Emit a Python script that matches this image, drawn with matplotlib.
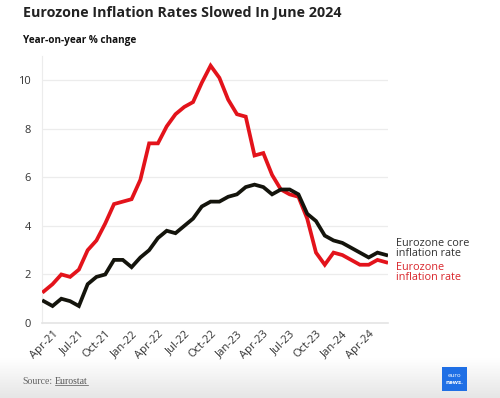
import numpy as np
import matplotlib
matplotlib.use("Agg")
import matplotlib.pyplot as plt
from matplotlib.colors import LinearSegmentedColormap

plt.rcParams['font.family'] = ['Open Sans', 'DejaVu Sans']

# monthly, Mar-21 .. Jun-24
months = ["Mar-21", "Apr-21", "May-21", "Jun-21", "Jul-21", "Aug-21", "Sep-21", "Oct-21", "Nov-21", "Dec-21",
          "Jan-22", "Feb-22", "Mar-22", "Apr-22", "May-22", "Jun-22", "Jul-22", "Aug-22", "Sep-22", "Oct-22",
          "Nov-22", "Dec-22", "Jan-23", "Feb-23", "Mar-23", "Apr-23", "May-23", "Jun-23", "Jul-23", "Aug-23",
          "Sep-23", "Oct-23", "Nov-23", "Dec-23", "Jan-24", "Feb-24", "Mar-24", "Apr-24", "May-24", "Jun-24"]
headline = [1.3, 1.6, 2.0, 1.9, 2.2, 3.0, 3.4, 4.1, 4.9, 5.0,
            5.1, 5.9, 7.4, 7.4, 8.1, 8.6, 8.9, 9.1, 9.9, 10.6,
            10.1, 9.2, 8.6, 8.5, 6.9, 7.0, 6.1, 5.5, 5.3, 5.2,
            4.3, 2.9, 2.4, 2.9, 2.8, 2.6, 2.4, 2.4, 2.6, 2.5]
core = [0.9, 0.7, 1.0, 0.9, 0.7, 1.6, 1.9, 2.0, 2.6, 2.6,
        2.3, 2.7, 3.0, 3.5, 3.8, 3.7, 4.0, 4.3, 4.8, 5.0,
        5.0, 5.2, 5.3, 5.6, 5.7, 5.6, 5.3, 5.5, 5.5, 5.3,
        4.5, 4.2, 3.6, 3.4, 3.3, 3.1, 2.9, 2.7, 2.9, 2.8]
tick_labels = ["Apr-21", "Jul-21", "Oct-21", "Jan-22", "Apr-22", "Jul-22", "Oct-22",
               "Jan-23", "Apr-23", "Jul-23", "Oct-23", "Jan-24", "Apr-24"]
y_ticks = [0, 2, 4, 6, 8, 10]

RED = "#e3131b"
BLACK = "#14140c"
GREY_TXT = "#333333"

fig = plt.figure(figsize=(5, 3.98), dpi=100)
fig.patch.set_facecolor("white")

# light grey gradient band at the bottom
band = fig.add_axes([0, 0, 1, 0.1])
grad = np.linspace(0, 1, 50).reshape(-1, 1)
cmap = LinearSegmentedColormap.from_list("band", ["#ffffff", "#e6e6e6"])
band.imshow(grad, aspect="auto", cmap=cmap, extent=[0, 1, 0, 1])
band.set_axis_off()

ax = fig.add_axes([0.084, 0.1884, 0.692, 0.671])
x = np.arange(len(months))
ax.plot(x, headline, color=RED, lw=2.7, solid_joinstyle="miter", zorder=3)
ax.plot(x, core, color=BLACK, lw=2.7, solid_joinstyle="miter", zorder=4)

ax.set_xlim(-0.2, 39.2)
ax.set_ylim(0, 11)
ax.set_yticks(y_ticks)
ax.set_yticklabels([str(v) for v in y_ticks])
ax.set_xticks([months.index(m) for m in tick_labels])
ax.set_xticklabels(tick_labels, rotation=45, ha="right", rotation_mode="anchor")
ax.tick_params(axis="both", length=0, labelsize=8, labelcolor=GREY_TXT)
ax.tick_params(axis="y", pad=8)
ax.tick_params(axis="x", pad=4)
ax.grid(axis="y", color="#ececec", lw=0.9)
for s in ["top", "right"]:
    ax.spines[s].set_visible(False)
ax.spines["left"].set_color("#ececec")
ax.spines["bottom"].set_color("#e4e4e4")
ax.spines["bottom"].set_linewidth(1.2)

# end labels
fig.text(0.792, 0.375, "Eurozone core\ninflation rate", color=GREY_TXT, fontsize=7.8,
         linespacing=0.85, va="center", ha="left")
fig.text(0.792, 0.316, "Eurozone\ninflation rate", color="#d9262c", fontsize=7.8,
         linespacing=0.85, va="center", ha="left")

fig.text(0.046, 0.968, "Eurozone Inflation Rates Slowed In June 2024", fontsize=10.3,
         fontweight="bold", color="#222222", va="center")
fig.text(0.046, 0.898, "Year-on-year % change", fontsize=7.2, fontweight="bold",
         color="#111111", va="center")

src = fig.text(0.044, 0.042, "Source:", family="Liberation Serif", fontsize=7, color="#666666", va="center")
fig.canvas.draw()
bb = src.get_window_extent().transformed(fig.transFigure.inverted())
x0 = bb.x1 + 0.006
link = fig.text(x0, 0.042, "Eurostat", family="Liberation Serif", fontsize=7, color="#555555", va="center")
fig.canvas.draw()
lb = link.get_window_extent().transformed(fig.transFigure.inverted())
fig.add_artist(plt.Line2D([lb.x0, lb.x1], [lb.y0 + 0.002, lb.y0 + 0.002], color="#555555", lw=0.5))

logo = fig.add_axes([0.884, 0.017, 0.05, 0.062])
logo.set_facecolor("#1f6fe5")
logo.set_xticks([])
logo.set_yticks([])
for s in logo.spines.values():
    s.set_visible(False)
logo.text(0.5, 0.62, "euro", color="white", fontsize=4.5, ha="center", va="center", transform=logo.transAxes)
logo.text(0.5, 0.36, "news.", color="white", fontsize=4.5, fontweight="bold", ha="center", va="center",
          transform=logo.transAxes)

fig.savefig("out.png", dpi=100)
